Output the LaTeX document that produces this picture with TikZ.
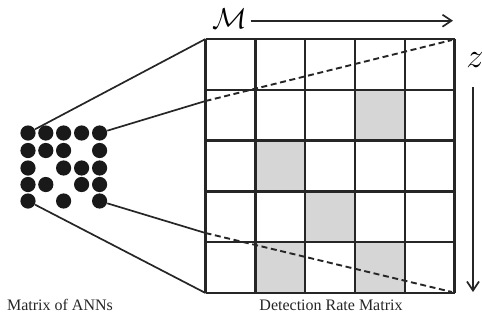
\documentclass[tikz,border=0pt]{standalone}
\usepackage{fontspec}
\setmainfont{Liberation Serif}
\usetikzlibrary{arrows.meta}
\begin{document}
\begin{tikzpicture}[x=0.5pt,y=-0.5pt,
  dot/.style={circle,fill=black!90,minimum size=7.6pt,inner sep=0pt},
  gridline/.style={line width=1.2pt,black!85},
  conn/.style={line width=0.85pt,black!85},
  dashconn/.style={line width=0.95pt,dash pattern=on 3pt off 1.8pt,black!85},
  shade/.style={fill=black!16},
  lbl/.style={font=\fontsize{8}{10}\selectfont,anchor=base,text=black!85},
  axis/.style={line width=0.85pt,black!85,-{Straight Barb[length=4.5pt,width=6pt]}}]
\useasboundingbox (0,0) rectangle (482,329);
% shaded cells
\foreach \r/\c in {2/4,3/2,4/3,5/2,5/4}
  \fill[shade] ({205.5+(\c-1)*49.8},{39+(\r-1)*50.8}) rectangle ++(49.8,50.8);
% grid
\foreach \i in {0,...,5} {
  \draw[gridline] ({205.5+\i*49.8},39) -- ({205.5+\i*49.8},293);
  \draw[gridline] (205.5,{39+\i*50.8}) -- (454.5,{39+\i*50.8});
}
\coordinate (gTL) at (205.5,39);
\coordinate (gTR) at (452,40);
\coordinate (gBL) at (205.5,293);
\coordinate (gBR) at (452,292);
\coordinate (gL1) at (205.5,101);
\coordinate (gL2) at (205.5,233);
% dots
\foreach \r/\y in {1/133,2/150.5,3/168,4/184.5,5/201}
  \foreach \c/\x in {1/28,2/45.8,3/63.6,4/81.6,5/99.6}
    \coordinate (p\r\c) at (\x,\y);
\foreach \r/\c in {1/1,1/2,1/3,1/4,1/5,
                   2/1,2/2,2/3,2/5,
                   3/1,3/3,3/4,3/5,
                   4/1,4/2,4/4,4/5,
                   5/1,5/3,5/5}
  \node[dot] (d\r\c) at (p\r\c) {};
% connectors
\draw[conn] (d11) -- (gTL);
\draw[conn] (d15) -- (gL1);
\draw[conn] (d51) -- (gBL);
\draw[conn] (d55) -- (gL2);
\draw[dashconn] (gL1) -- (gTR);
\draw[dashconn] (gL2) -- (gBR);
% axes
\node[font=\fontsize{14}{16}\selectfont,inner sep=0pt] (M) at (230,19) {$\mathcal{M}$};
\coordinate (mEnd) at (453,20.7);
\draw[axis] (M.east |- mEnd) ++(3,0) -- (mEnd);
\node[font=\fontsize{17}{19}\selectfont,inner sep=0pt] (Z) at (475,60) {$z$};
\coordinate (zStart) at (473,87);
\coordinate (zEnd) at (473,292);
\draw[axis] (zStart) -- (zEnd);
% labels
\node[lbl] (l1) at (60,310) {Matrix of ANNs};
\node[lbl] (l2) at (331,310) {Detection Rate Matrix};
\end{tikzpicture}
\end{document}
